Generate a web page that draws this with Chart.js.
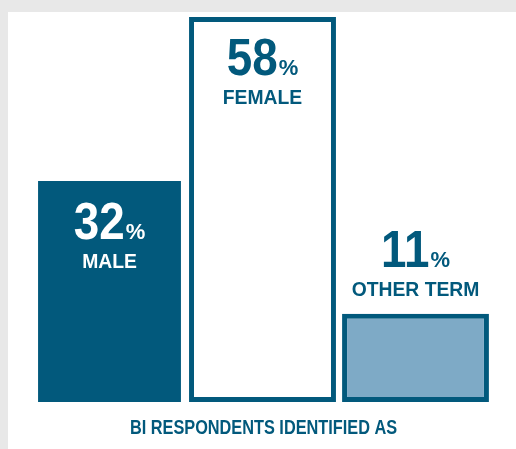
<!DOCTYPE html>
<html>
<head>
<meta charset="utf-8">
<script src="https://cdn.jsdelivr.net/npm/chart.js@4"></script>
<style>
  body { margin: 0; background: #e8e8e8; width: 516px; height: 449px; overflow: hidden; }
  #card { position: absolute; left: 8px; top: 12px; width: 508px; height: 437px; background: #fff; }
  canvas { display: block; }
</style>
</head>
<body>
<div id="card"><canvas id="chart" width="508" height="437"></canvas></div>
<script>
// values
var categories = ["MALE", "FEMALE", "OTHER TERM"];
var percents = [32, 58, 11];
var footTitle = "BI RESPONDENTS IDENTIFIED AS";

var DARK = "#02597c";
var LIGHT = "#7eaac6";

// draw text squeezed horizontally (the original uses a condensed face)
function squeezed(ctx, text, x, y, font, sx) {
    ctx.save();
    ctx.font = font;
    ctx.translate(x, y);
    ctx.scale(sx, 1);
    ctx.textAlign = "left";
    ctx.textBaseline = "alphabetic";
    ctx.fillText(text, 0, 0);
    ctx.restore();
}

var labelPlugin = {
    id: "barLabels",
    afterDatasetsDraw: function(chart) {
        var ctx = chart.ctx;
        var meta = chart.getDatasetMeta(0);
        var fam = "'Liberation Sans', Arial, sans-serif";
        var numFont = "bold 52px " + fam;
        var pctFont = "bold 22px " + fam;
        var txtFont = "bold 21px " + fam;
        var numScale = 0.88;
        var txtScale = 0.92;

        meta.data.forEach(function(bar, i) {
            var inside = i < 2;
            var numBase, txtBase;
            if (inside) {
                numBase = bar.y + 58;
                txtBase = numBase + 28.5;
            } else {
                txtBase = bar.y - 18;
                numBase = txtBase - 28.5;
            }
            ctx.fillStyle = i === 0 ? "#ffffff" : DARK;

            var num = String(percents[i]);
            ctx.font = numFont;
            var wNum = ctx.measureText(num).width * numScale;
            ctx.font = pctFont;
            var wPct = ctx.measureText("%").width;
            var gap = 1;
            var x0 = bar.x - (wNum + gap + wPct) / 2;
            squeezed(ctx, num, x0, numBase, numFont, numScale);
            squeezed(ctx, "%", x0 + wNum + gap, numBase, pctFont, 1);

            ctx.font = txtFont;
            var wTxt = ctx.measureText(categories[i]).width * txtScale;
            squeezed(ctx, categories[i], bar.x - wTxt / 2, txtBase, txtFont, txtScale);
        });

        // caption under the bars
        var area = chart.chartArea;
        var capFont = "bold 20px " + fam;
        var capScale = 0.815;
        ctx.font = capFont;
        var wCap = ctx.measureText(footTitle).width * capScale;
        ctx.fillStyle = DARK;
        squeezed(ctx, footTitle, (area.left + area.right) / 2 + 1 - wCap / 2, area.bottom + 32, capFont, capScale);
    }
};

new Chart(document.getElementById("chart"), {
    type: "bar",
    data: {
        labels: categories,
        datasets: [{
            data: percents,
            base: -3,
            backgroundColor: [DARK, "#ffffff", LIGHT],
            borderColor: ["#ffffff", DARK, DARK],
            borderWidth: [{ left: 2, right: 2, top: 0, bottom: 0 }, 5, 5],
            borderSkipped: false,
            categoryPercentage: 1,
            barPercentage: 0.96,
            clip: false
        }]
    },
    options: {
        responsive: false,
        animation: false,
        layout: { padding: { left: 25, right: 24, top: 5, bottom: 47 } },
        plugins: {
            legend: { display: false },
            tooltip: { enabled: false }
        },
        scales: {
            x: { display: false },
            y: { display: false, min: -3, max: 58 }
        }
    },
    plugins: [labelPlugin]
});
</script>
</body>
</html>
